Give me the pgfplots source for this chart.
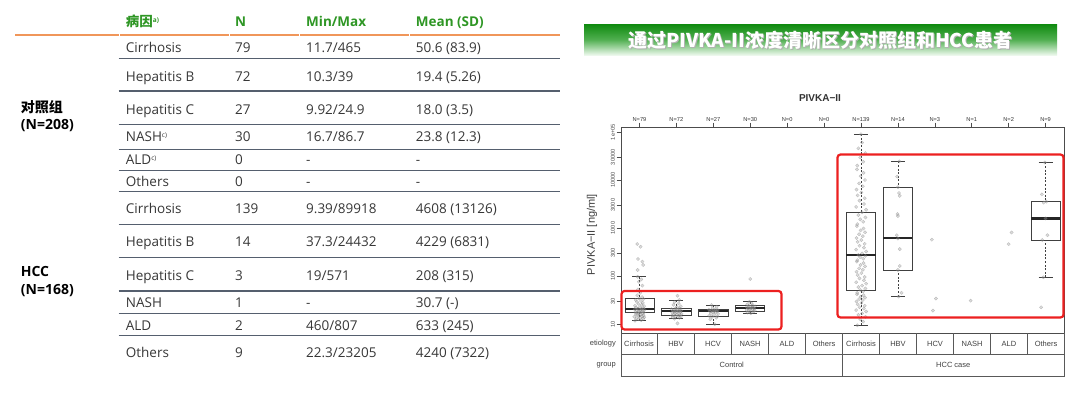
\documentclass[border=0pt]{standalone}
\usepackage{pgfplots}
\pgfplotsset{compat=1.18}
\usepgfplotslibrary{statistics}
\usepackage{fontspec}
\setmainfont{Open Sans}
\newfontfamily\cjk{Noto Sans CJK SC}
\newfontfamily\chartfont{Liberation Sans}
\newcommand\fs[1]{\fontsize{#1bp}{#1bp}\selectfont}
\definecolor{tgreen}{RGB}{46,150,36}
\definecolor{torange}{RGB}{240,150,90}
\definecolor{tline}{RGB}{85,95,110}
\definecolor{ttext}{RGB}{55,55,55}
\definecolor{bgreen}{RGB}{14,138,14}
\definecolor{rred}{RGB}{236,32,32}
\pgfplotsset{
  pts/.style={only marks, mark=*, mark size=1.7bp,
    mark options={draw=black!50, fill=black!40, draw opacity=0.45, fill opacity=0.35, line width=0.3bp}},
  boxplot/draw/lower whisker/.code={%
    \draw[dash pattern=on 2bp off 1.6bp] (boxplot box cs:\pgfplotsboxplotvalue{lower whisker},0.5) -- (boxplot box cs:\pgfplotsboxplotvalue{lower quartile},0.5);
    \draw (boxplot whisker cs:\pgfplotsboxplotvalue{lower whisker},0) -- (boxplot whisker cs:\pgfplotsboxplotvalue{lower whisker},1);
  },
  boxplot/draw/upper whisker/.code={%
    \draw[dash pattern=on 2bp off 1.6bp] (boxplot box cs:\pgfplotsboxplotvalue{upper whisker},0.5) -- (boxplot box cs:\pgfplotsboxplotvalue{upper quartile},0.5);
    \draw (boxplot whisker cs:\pgfplotsboxplotvalue{upper whisker},0) -- (boxplot whisker cs:\pgfplotsboxplotvalue{upper whisker},1);
  },
}
\newcommand{\trow}[5]{%
  \node[tcell] at (125.7,#1) {#2};
  \node[tcell] at (235,#1) {#3};
  \node[tcell] at (306,#1) {#4};
  \node[tcell] at (415.7,#1) {#5};}
\begin{document}
\begin{tikzpicture}[x=1bp,y=-1bp,
  tcell/.style={anchor=base west, inner sep=0, text=ttext, font=\fs{13.5}},
  hdr/.style={anchor=base west, inner sep=0, text=tgreen, font=\bfseries\fs{13.5}},
  ctext/.style={font=\chartfont\fs{7.5}, text=black!75, inner sep=0}]
\path (0,0) rectangle (1080,396);
% ---------------- table ----------------
\node[hdr] at (125.7,26) {{\cjk\bfseries 病因}\raisebox{4bp}{\fs{6.5}a)}};
\node[hdr] at (235,26) {N};
\node[hdr] at (306,26) {Min/Max};
\node[hdr] at (415.7,26) {Mean (SD)};
\foreach \a/\b in {15/118.5,120/228.5,230/298.5,300/408.5,410/560}
  \draw[torange, line width=2bp] (\a,35) -- (\b,35);
\foreach \yy in {58.3,91,124.3,149.7,170.3,191.7,224.3,257.3,291,313.3,335.7}
  \draw[tline, line width=1.1bp] (118.5,\yy) -- (560,\yy);
\trow{52.3}{Cirrhosis}{79}{11.7/465}{50.6 (83.9)}
\trow{81}{Hepatitis B}{72}{10.3/39}{19.4 (5.26)}
\trow{114}{Hepatitis C}{27}{9.92/24.9}{18.0 (3.5)}
\trow{141}{NASH\raisebox{4bp}{\fs{6.5}c)}}{30}{16.7/86.7}{23.8 (12.3)}
\trow{164}{ALD\raisebox{4bp}{\fs{6.5}c)}}{0}{-}{-}
\trow{186}{Others}{0}{-}{-}
\trow{213.3}{Cirrhosis}{139}{9.39/89918}{4608 (13126)}
\trow{246.7}{Hepatitis B}{14}{37.3/24432}{4229 (6831)}
\trow{280}{Hepatitis C}{3}{19/571}{208 (315)}
\trow{307.3}{NASH}{1}{-}{30.7 (-)}
\trow{330}{ALD}{2}{460/807}{633 (245)}
\trow{357.7}{Others}{9}{22.3/23205}{4240 (7322)}
\node[anchor=base west, inner sep=0, font=\cjk\bfseries\fs{14}] at (20.7,112) {对照组};
\node[anchor=base west, inner sep=0, font=\bfseries\fs{14}] at (20.7,129.5) {(N=208)};
\node[anchor=base west, inner sep=0, font=\bfseries\fs{14}] at (20.7,276) {HCC};
\node[anchor=base west, inner sep=0, font=\bfseries\fs{14}] at (20.7,294) {(N=168)};
% ---------------- banner ----------------
\shade[top color=bgreen, bottom color={rgb,255:red,236;green,248;blue,236}, middle color={rgb,255:red,80;green,175;blue,80}]
  (584,24) rectangle (1057,55);
\node[text=black!30, font=\cjk\bfseries\fs{19}] at (821.5,41) {通过PIVKA-II浓度清晰区分对照组和HCC患者};
\node[text=white, font=\cjk\bfseries\fs{19}] at (820.5,40) {通过PIVKA-II浓度清晰区分对照组和HCC患者};
% ---------------- chart ----------------
\node[font=\chartfont\bfseries\fs{10}, text=black!80] at (820,98) {PIVKA−II};
\node[rotate=90, font=\chartfont\fs{11}, text=black!75] at (592,234.5) {PIVKA−II [ng/ml]};
\begin{axis}[
  at={(621bp,-333bp)}, anchor=south west,
  scale only axis, width=443bp, height=206bp,
  xmin=0.5, xmax=12.5, ymin=0.8125, ymax=5.104,
  axis line style={draw=black!70, line width=0.8bp},
  tick align=outside, major tick length=4.5bp,
  every tick/.style={draw=black!70, line width=0.6bp},
  xtick={1,...,12},
  xticklabels={N=79,N=72,N=27,N=30,N=0,N=0,N=139,N=14,N=3,N=1,N=2,N=9},
  xtick pos=right, xticklabel pos=right,
  xticklabel style={font=\chartfont\fs{5.7}, text=black!80, inner sep=1bp},
  ytick={1,1.47712,2,2.47712,3,3.47712,4,4.47712,5},
  yticklabels={10,30,100,300,1000,3000,10000,30000,1e+05},
  ytick pos=left,
  yticklabel style={rotate=90, anchor=south, font=\chartfont\fs{5.7}, text=black!70, inner sep=1.5bp},
  boxplot/draw direction=y,
  boxplot/every median/.style={line width=2.2bp, draw=black!85},
  boxplot/box extend=0.79, boxplot/whisker extend=0.38,
]
\addplot[boxplot prepared={draw position=1, lower whisker=1.069, lower quartile=1.235, median=1.3125, upper quartile=1.535, upper whisker=1.985}, draw=black!75, line width=0.7bp] coordinates {};
\addplot[boxplot prepared={draw position=2, lower whisker=1.11, lower quartile=1.1875, median=1.27, upper quartile=1.327, upper whisker=1.50}, draw=black!75, line width=0.7bp] coordinates {};
\addplot[boxplot prepared={draw position=3, lower whisker=0.996, lower quartile=1.167, median=1.264, upper quartile=1.306, upper whisker=1.396}, draw=black!75, line width=0.7bp] coordinates {};
\addplot[boxplot prepared={draw position=4, lower whisker=1.2227, lower quartile=1.27, median=1.333, upper quartile=1.39, upper whisker=1.465}, draw=black!75, line width=0.7bp] coordinates {};
\addplot[boxplot prepared={draw position=7, lower whisker=0.973, lower quartile=1.708, median=2.4375, upper quartile=3.327, upper whisker=4.954}, draw=black!75, line width=0.7bp] coordinates {};
\addplot[boxplot prepared={draw position=8, lower whisker=1.572, lower quartile=2.125, median=2.80, upper quartile=3.85, upper whisker=4.388}, draw=black!75, line width=0.7bp] coordinates {};
\addplot[boxplot prepared={draw position=12, lower whisker=1.973, lower quartile=2.75, median=3.20, upper quartile=3.5625, upper whisker=4.366}, draw=black!75, line width=0.7bp] coordinates {};
% control cirrhosis
\addplot[pts] coordinates {(0.88,1.069) (1.05,1.08) (0.97,1.10) (1.10,1.11) (0.92,1.12) (1.02,1.13) (1.13,1.14) (0.86,1.15) (1.07,1.16) (0.99,1.17) (1.11,1.18) (0.94,1.19) (1.04,1.20) (0.90,1.21) (1.08,1.22) (0.96,1.23) (1.00,1.235) (1.12,1.24) (0.89,1.25) (1.06,1.26) (0.98,1.265) (1.09,1.27) (0.93,1.28) (1.03,1.29) (1.14,1.30) (0.87,1.305) (1.05,1.3125) (0.95,1.32) (1.10,1.33) (0.91,1.34) (1.01,1.35) (1.13,1.37) (0.88,1.38) (1.06,1.40) (0.97,1.42) (1.09,1.44) (0.93,1.46) (1.04,1.48) (0.90,1.50) (1.11,1.52) (0.99,1.535) (1.07,1.56) (0.94,1.60) (1.02,1.65) (0.96,1.72) (1.08,1.80) (0.98,1.88) (1.05,1.93) (0.95,1.985) (0.95,2.125) (1.10,2.23) (1.08,2.30) (0.96,2.354) (1.03,2.61) (0.94,2.667)};
% control HBV
\addplot[pts] coordinates {(2.03,1.013) (1.95,1.11) (2.08,1.13) (1.90,1.14) (2.12,1.15) (1.98,1.16) (2.05,1.17) (1.88,1.18) (2.10,1.185) (1.93,1.19) (2.01,1.20) (2.14,1.21) (1.96,1.22) (2.07,1.23) (1.89,1.24) (2.11,1.25) (2.00,1.255) (1.94,1.26) (2.06,1.27) (1.91,1.275) (2.13,1.28) (1.99,1.29) (2.04,1.30) (1.87,1.31) (2.09,1.32) (1.97,1.33) (2.02,1.35) (2.12,1.37) (1.92,1.40) (2.06,1.43) (1.95,1.46) (2.08,1.50) (2.03,1.59)};
% control HCV
\addplot[pts] coordinates {(3.04,0.996) (2.92,1.10) (3.08,1.13) (2.97,1.15) (3.11,1.16) (2.89,1.17) (3.02,1.19) (3.13,1.21) (2.94,1.22) (3.06,1.24) (2.99,1.25) (3.10,1.26) (2.91,1.264) (3.03,1.27) (2.96,1.28) (3.12,1.29) (2.88,1.30) (3.05,1.306) (2.98,1.33) (3.09,1.36) (2.95,1.396)};
% control NASH
\addplot[pts] coordinates {(4.02,1.2227) (3.93,1.24) (4.09,1.26) (3.97,1.27) (4.12,1.28) (3.90,1.29) (4.05,1.30) (3.99,1.31) (4.11,1.32) (3.94,1.33) (4.03,1.333) (4.08,1.34) (3.91,1.35) (4.00,1.36) (4.13,1.37) (3.96,1.38) (4.06,1.39) (3.92,1.41) (4.04,1.43) (3.98,1.465) (4.00,1.938)};
% HCC cirrhosis
\addplot[pts] coordinates {(6.90,0.973) (7.06,1.05) (6.98,1.10) (7.12,1.15) (6.93,1.19) (7.03,1.22) (7.14,1.26) (6.87,1.29) (7.08,1.32) (6.96,1.35) (7.10,1.38) (6.91,1.41) (7.01,1.44) (6.88,1.47) (7.05,1.50) (6.95,1.52) (7.11,1.55) (6.99,1.57) (7.07,1.60) (6.89,1.62) (6.90,1.65) (7.06,1.68) (6.98,1.708) (7.12,1.74) (6.93,1.77) (7.03,1.80) (7.14,1.84) (6.87,1.87) (7.08,1.91) (6.96,1.95) (7.10,1.98) (6.91,2.02) (7.01,2.06) (6.88,2.09) (7.05,2.13) (6.95,2.16) (7.11,2.20) (6.99,2.23) (7.07,2.27) (6.89,2.30) (6.90,2.33) (7.06,2.36) (6.98,2.39) (7.12,2.42) (6.93,2.4375) (7.03,2.47) (7.14,2.51) (6.87,2.55) (7.08,2.59) (6.96,2.63) (7.10,2.67) (6.91,2.71) (7.01,2.75) (6.88,2.79) (7.05,2.83) (6.95,2.87) (7.11,2.91) (6.99,2.95) (7.07,2.99) (6.89,3.04) (6.90,3.08) (7.06,3.13) (6.98,3.18) (7.12,3.22) (6.93,3.27) (7.03,3.327) (7.14,3.38) (6.87,3.44) (7.08,3.50) (6.96,3.57) (7.10,3.62) (6.91,3.68) (7.01,3.74) (6.88,3.80) (7.05,3.87) (6.95,3.93) (7.11,4.00) (6.99,4.08) (7.07,4.15) (6.89,4.22) (6.90,4.30) (7.06,4.38) (6.98,4.47) (7.12,4.56) (6.93,4.66) (7.03,4.78) (7.00,4.954)};
% HCC HBV
\addplot[pts] coordinates {(8.04,4.388) (7.98,4.07) (8.00,3.85) (8.03,3.73) (8.05,3.67) (7.99,3.29) (8.00,3.25) (7.97,2.85) (8.00,2.78) (8.05,2.56) (8.05,2.21) (8.00,2.125) (8.10,1.65) (8.02,1.572)};
% HCC HCV, NASH, ALD
\addplot[pts] coordinates {(8.92,2.757) (9.03,1.53) (8.95,1.279)};
\addplot[pts] coordinates {(9.97,1.487)};
\addplot[pts] coordinates {(11.00,2.663) (11.08,2.907)};
% HCC others
\addplot[pts] coordinates {(11.98,4.366) (11.90,3.70) (12.02,3.55) (11.95,3.53) (12.00,3.20) (12.05,2.85) (11.91,2.75) (11.94,1.973) (11.88,1.348)};
\end{axis}
% etiology / group table
\draw[black!65, line width=0.7bp] (621,333) -- (621,376) -- (1064.5,376) -- (1064.5,333);
\draw[black!65, line width=0.7bp] (621,354.5) -- (1064.5,354.5);
\foreach \xx in {657.5,694.5,...,1028}
  \draw[black!65, line width=0.7bp] (\xx,333) -- (\xx,354.5);
\draw[black!65, line width=0.7bp] (842.5,354.5) -- (842.5,376);
\foreach \lab [count=\i from 0] in {Cirrhosis,HBV,HCV,NASH,ALD,Others,Cirrhosis,HBV,HCV,NASH,ALD,Others}
  \node[ctext] at (639+37*\i,344) {\lab};
\node[ctext] at (731.75,365) {Control};
\node[ctext] at (953.25,365) {HCC case};
\node[ctext, anchor=east] at (616,344) {etiology};
\node[ctext, anchor=east] at (616,365) {group};
% red highlight boxes
\draw[rred, line width=2.2bp, rounded corners=3bp] (621.5,291) rectangle (781.5,329.5);
\draw[rred, line width=2.2bp, rounded corners=3bp] (837.5,154.5) rectangle (1063.5,317.5);
\end{tikzpicture}
\end{document}
